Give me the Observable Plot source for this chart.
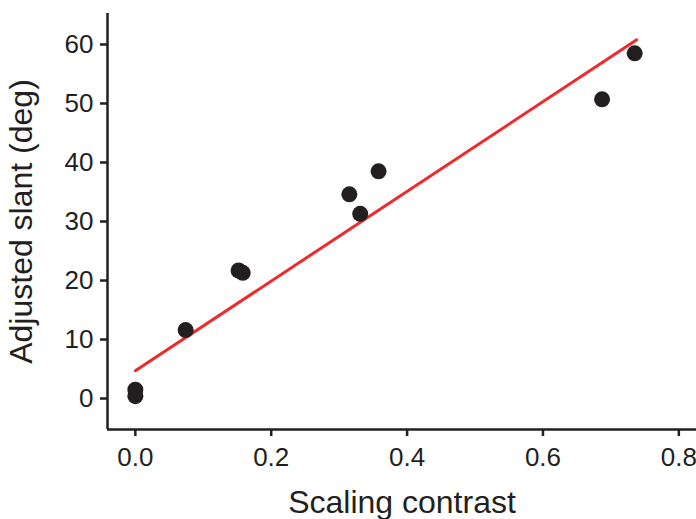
<!DOCTYPE html>
<html>
<head>
<meta charset="utf-8">
<script src="https://cdn.jsdelivr.net/npm/d3@7"></script>
<script src="https://cdn.jsdelivr.net/npm/@observablehq/plot@0.6"></script>
<style>
  html, body { margin: 0; padding: 0; background: #fff; }
  svg { display: block; }
</style>
</head>
<body>
<div id="chart"></div>
<script>
const scalingContrast = [0.0, 0.0, 0.074, 0.152, 0.158, 0.315, 0.331, 0.358, 0.687, 0.735];
const adjustedSlant   = [1.5, 0.4, 11.6, 21.7, 21.3, 34.6, 31.3, 38.5, 50.7, 58.5];
const fitX = [0.0, 0.738];
const fitY = [4.7, 60.8];
const xTicks = [0, 0.2, 0.4, 0.6, 0.8];
const yTicks = [0, 10, 20, 30, 40, 50, 60];

const xDomain = [-0.041, 0.826];
const yDomain = [-5.25, 65.25];

const points = scalingContrast.map((x, i) => ({x, y: adjustedSlant[i]}));
const fit = fitX.map((x, i) => ({x, y: fitY[i]}));

const ink = "#231f20";
const chart = Plot.plot({
  width: 696,
  height: 519,
  marginLeft: 107,
  marginRight: 0,
  marginTop: 13,
  marginBottom: 90,
  style: {fontFamily: "Liberation Sans, Arial, Helvetica, sans-serif", fontSize: "26px", color: ink, background: "#fff"},
  x: {domain: xDomain},
  y: {domain: yDomain},
  marks: [
    Plot.axisX({ticks: xTicks, tickFormat: d3.format(".1f"), tickSize: 7, tickPadding: 11, strokeWidth: 2.5,
      label: "Scaling contrast", labelAnchor: "center", labelArrow: "none", labelOffset: 83}),
    Plot.axisY({ticks: yTicks, tickSize: 7, tickPadding: 7, strokeWidth: 2.5,
      label: "Adjusted slant (deg)", labelAnchor: "center", labelArrow: "none", labelOffset: 98}),
    Plot.ruleX([xDomain[0]], {stroke: ink, strokeWidth: 2.5}),
    Plot.ruleY([yDomain[0]], {stroke: ink, strokeWidth: 2.5}),
    Plot.line(fit, {x: "x", y: "y", stroke: "#ee2a2a", strokeWidth: 3}),
    Plot.dot(points, {x: "x", y: "y", r: 8, fill: ink, stroke: "none"})
  ]
});
// tick labels and axis titles sized to the reference
chart.querySelectorAll("[aria-label='x-axis tick label'], [aria-label='y-axis tick label']").forEach(g => {
  g.setAttribute("font-size", "26px");
  g.querySelectorAll("text").forEach(t => t.setAttribute("font-size", "26px"));
});
chart.querySelectorAll("[aria-label='x-axis label'], [aria-label='y-axis label']").forEach(g => {
  g.setAttribute("font-size", "32px");
  g.querySelectorAll("text").forEach(t => t.setAttribute("font-size", "32px"));
});
document.getElementById("chart").appendChild(chart);
</script>
</body>
</html>
